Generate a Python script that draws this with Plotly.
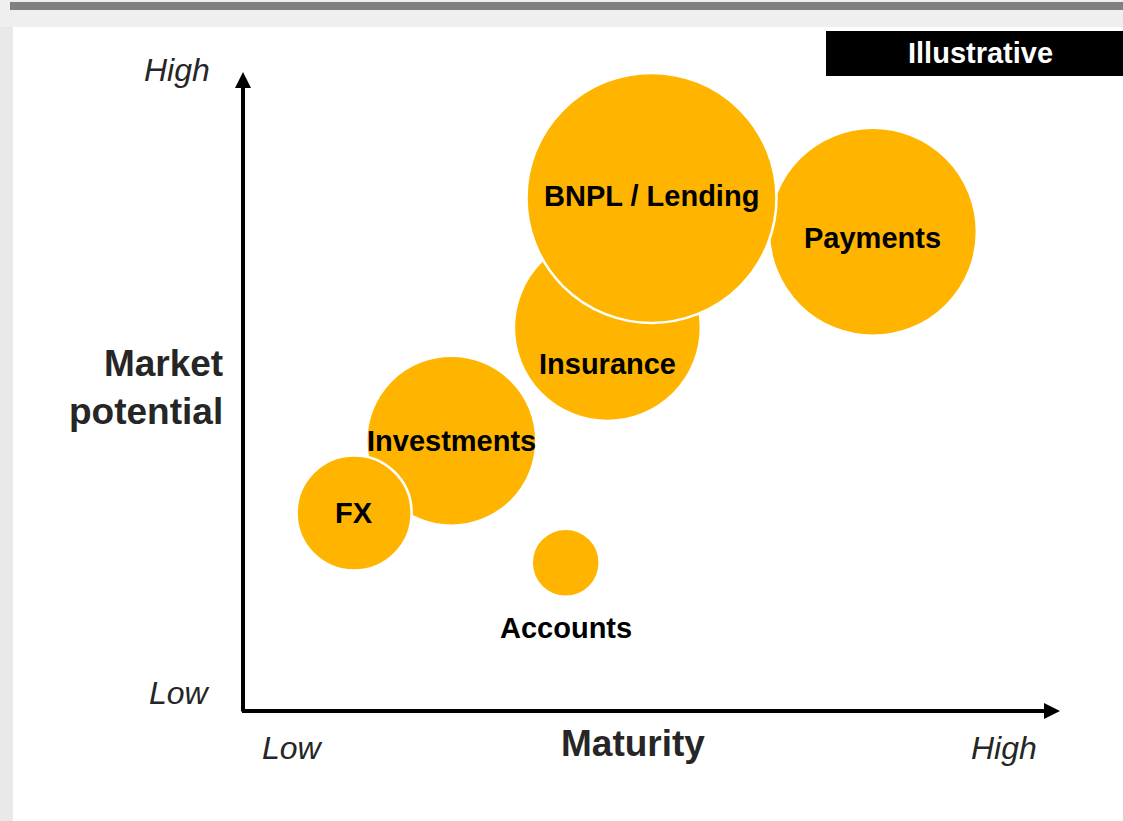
import plotly.graph_objects as go

# ---- data ----
categories = ["Payments", "Insurance", "BNPL / Lending", "Investments", "FX", "Accounts"]
maturity = [7.71, 4.46, 5.0, 2.55, 1.36, 3.95]
potential = [7.5, 6.0, 8.03, 4.23, 3.1, 2.32]
bubble_size = [208, 187, 250, 170, 115, 68]

# label vertical offsets (px, positive = downward) -- styling only
label_dy = {"Payments": 6, "Insurance": 36, "BNPL / Lending": -2,
            "Investments": 0, "FX": 0, "Accounts": 65}

# ---- layout geometry ----
FW, FH = 1123, 821
L, R, T, B = 243, 1060, 72, 711
W, H = R - L, B - T


def px(x):
    return (x - L) / W


def py(y):
    return (B - y) / H


FONT = "Liberation Sans, Arial, Helvetica, sans-serif"
YELLOW = "#FFB500"
DARK = "#262626"

fig = go.Figure()
fig.add_trace(go.Scatter(
    x=maturity, y=potential, mode="markers",
    marker=dict(size=bubble_size, sizemode="diameter", color=YELLOW,
                opacity=1, line=dict(color="white", width=2.5)),
    cliponaxis=False, hoverinfo="text", text=categories, showlegend=False,
))

ann = []
for c, xv, yv in zip(categories, maturity, potential):
    ann.append(dict(x=xv, y=yv, xref="x", yref="y", text="<b>%s</b>" % c,
                    showarrow=False, yshift=-label_dy[c],
                    font=dict(family=FONT, size=29, color="black")))

# axis arrows
ann.append(dict(x=10, y=0, xref="x", yref="y", ax=-0.03, ay=0, axref="x", ayref="y",
                text="", showarrow=True, arrowhead=2, arrowsize=0.8, arrowwidth=4,
                arrowcolor="black"))
ann.append(dict(x=0, y=10, xref="x", yref="y", ax=0, ay=-0.03, axref="x", ayref="y",
                text="", showarrow=True, arrowhead=2, arrowsize=0.8, arrowwidth=4,
                arrowcolor="black"))


def txt(x, y, s, size, xanchor="center", italic=False, bold=False, color=DARK, align="center"):
    t = s
    if bold:
        t = "<b>%s</b>" % t
    if italic:
        t = "<i>%s</i>" % t
    ann.append(dict(x=px(x), y=py(y), xref="paper", yref="paper", text=t, showarrow=False,
                    xanchor=xanchor, yanchor="middle", align=align,
                    font=dict(family=FONT, size=size, color=color)))


txt(212, 70, "High", 32, xanchor="right", italic=True)
txt(212, 693, "Low", 32, xanchor="right", italic=True)
txt(292, 748, "Low", 32, italic=True)
txt(1004, 748, "High", 32, italic=True)
txt(633, 743, "Maturity", 37, bold=True)
txt(225, 387, "Market<br>potential", 37, xanchor="right", bold=True, align="right")
txt(980, 53, "Illustrative", 29, bold=True, color="white")

shapes = [
    # background frame
    dict(type="rect", xref="paper", yref="paper", x0=px(0), x1=px(13), y0=py(0), y1=py(FH),
         fillcolor="#e9e9e9", line=dict(width=0), layer="below"),
    dict(type="rect", xref="paper", yref="paper", x0=px(0), x1=px(FW), y0=py(0), y1=py(27),
         fillcolor="#efefef", line=dict(width=0), layer="below"),
    dict(type="rect", xref="paper", yref="paper", x0=px(10), x1=px(FW), y0=py(2), y1=py(10),
         fillcolor="#808080", line=dict(width=0), layer="below"),
    # Illustrative box
    dict(type="rect", xref="paper", yref="paper", x0=px(826), x1=px(FW), y0=py(31), y1=py(76),
         fillcolor="black", line=dict(width=0), layer="below"),
]

fig.update_layout(
    width=FW, height=FH,
    margin=dict(l=L, r=FW - R, t=T, b=FH - B),
    paper_bgcolor="white", plot_bgcolor="rgba(0,0,0,0)",
    xaxis=dict(range=[0, 10], visible=False, fixedrange=True),
    yaxis=dict(range=[0, 10], visible=False, fixedrange=True),
    annotations=ann, shapes=shapes,
    font=dict(family=FONT),
)

fig.write_html("out.html", config={"displayModeBar": False},
               post_script="document.body.style.margin='0';document.body.style.padding='0';")
